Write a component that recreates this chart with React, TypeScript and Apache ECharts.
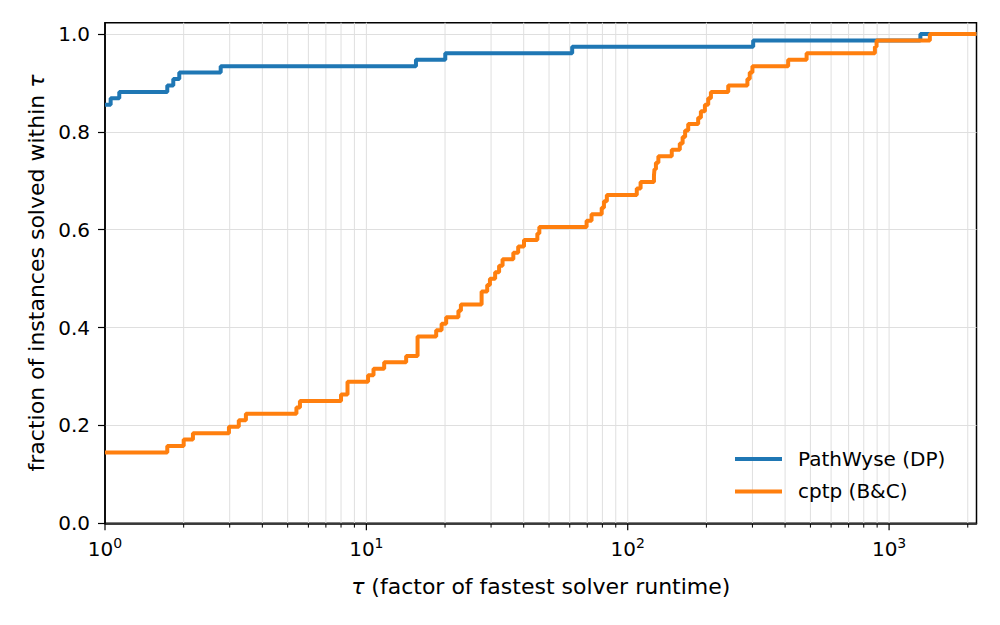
import React, { useEffect, useRef } from "react";
import * as echarts from "echarts";

// ---------------- data ----------------
const N_INSTANCES = 76;
const TAU_MIN = 1;
const TAU_MAX = 2160;
const Y_MAX = 1.023;

const seriesNames = ["PathWyse (DP)", "cptp (B&C)"];

// tau at which the number of solved instances changes, and the count from there on
const pathwyseTau = [1, 1.051, 1.134, 1.731, 1.825, 1.924, 2.771, 15.48, 20.04, 61.3, 302, 1317.5, TAU_MAX];
const pathwyseSolved = [65, 66, 67, 68, 69, 70, 71, 72, 73, 74, 75, 76, 76];

const cptpTau = [
  1, 1.731, 2.0, 2.17, 2.98, 3.25, 3.46, 5.4, 5.57, 8.0,
  8.47, 10.15, 10.65, 11.7, 14.2, 15.7, 18.5, 19.4, 20.2, 22.5,
  23.0, 27.6, 29.0, 29.7, 31.1, 32.2, 33.2, 36.5, 38.1, 40.1,
  45.1, 45.9, 69.6, 72.7, 79.5, 81.1, 83.2, 108.3, 112, 126,
  126.6, 128.2, 131, 147.4, 158.2, 162.2, 165.8, 170.4, 186, 190.5,
  197.4, 203.2, 208.1, 242.4, 287, 293, 300, 411, 483.5, 882.5,
  895.5, 1432, TAU_MAX,
];
const cptpSolved = [
  11, 12, 13, 14, 15, 16, 17, 18, 19, 20,
  22, 23, 24, 25, 26, 29, 30, 31, 32, 33,
  34, 36, 37, 38, 39, 40, 41, 42, 43, 44,
  45, 46, 47, 48, 49, 50, 51, 52, 53, 54,
  55, 56, 57, 58, 59, 60, 61, 62, 63, 64,
  65, 66, 67, 68, 69, 70, 71, 72, 73, 74,
  75, 76, 76,
];

const xMajorTicks = [1, 10, 100, 1000];
const xMinorTicks = [
  2, 3, 4, 5, 6, 7, 8, 9,
  20, 30, 40, 50, 60, 70, 80, 90,
  200, 300, 400, 500, 600, 700, 800, 900,
  2000,
];
const yTicks = [0, 0.2, 0.4, 0.6, 0.8, 1.0];

// ---------------- style ----------------
const FONT = "DejaVu Sans";
const BLUE = "#1f77b4";
const ORANGE = "#ff7f0e";
const GRID_COLOR = "#dfdfdf";
const NAME_SIZE = 22;

export default function App() {
  const ref = useRef<HTMLDivElement>(null);

  useEffect(() => {
    if (!ref.current) return;
    const chart = echarts.init(ref.current, undefined, { renderer: "svg" });

    const tickData = [
      ...xMajorTicks.map((v) => [v, 1]),
      ...xMinorTicks.map((v) => [v, 0]),
    ];

    const option: any = {
      animation: false,
      backgroundColor: "#ffffff",
      textStyle: { fontFamily: FONT, color: "#000" },
      grid: {
        left: 105,
        right: 23.5,
        top: 22.7,
        bottom: 101.7,
        show: true,
        borderColor: "#000",
        borderWidth: 1.5,
        backgroundColor: "transparent",
      },
      legend: {
        orient: "vertical",
        left: 730,
        top: 444,
        itemWidth: 47,
        itemHeight: 4,
        itemGap: 12.4,
        icon: "rect",
        selectedMode: false,
        data: seriesNames,
        textStyle: {
          fontFamily: FONT,
          fontSize: 20,
          color: "#000",
          padding: [0, 0, 0, 11],
        },
      },
      xAxis: {
        type: "log",
        logBase: 10,
        min: TAU_MIN,
        max: TAU_MAX,
        axisLine: { show: true, onZero: false, lineStyle: { color: "#000", width: 1.5 } },
        axisTick: { show: false },
        splitLine: { show: false },
        axisLabel: {
          margin: 13,
          color: "#000",
          formatter: (v: number) => {
            const e = Math.round(Math.log10(v));
            if (Math.abs(Math.pow(10, e) - v) > 1e-6 * v) return "";
            return `{b|10}{s|${e}}`;
          },
          rich: {
            b: { fontFamily: FONT, fontSize: 20, lineHeight: 26, color: "#000" },
            s: { fontFamily: FONT, fontSize: 14, lineHeight: 14, verticalAlign: "top", color: "#000" },
          },
        },
        name: "{i|τ} (factor of fastest solver runtime)",
        nameLocation: "middle",
        nameGap: 52,
        nameTextStyle: {
          fontFamily: FONT,
          fontSize: NAME_SIZE,
          color: "#000",
          rich: {
            i: { fontFamily: FONT, fontStyle: "italic", fontSize: NAME_SIZE, color: "#000" },
          },
        },
      },
      yAxis: {
        type: "value",
        min: 0,
        max: Y_MAX,
        interval: 0.2,
        axisLine: { show: true, lineStyle: { color: "#000", width: 1.5 } },
        axisTick: {
          show: true,
          length: 7,
          customValues: yTicks,
          lineStyle: { color: "#000", width: 1.2 },
        },
        axisLabel: {
          customValues: yTicks,
          margin: 15,
          fontFamily: FONT,
          fontSize: 20,
          color: "#000",
          formatter: (v: number) => v.toFixed(1),
        },
        splitLine: { show: true, lineStyle: { color: GRID_COLOR, width: 1 } },
        name: "fraction of instances solved within {i|τ}",
        nameLocation: "middle",
        nameGap: 57,
        nameTextStyle: {
          fontFamily: FONT,
          fontSize: NAME_SIZE,
          color: "#000",
          rich: {
            i: { fontFamily: FONT, fontStyle: "italic", fontSize: NAME_SIZE, color: "#000" },
          },
        },
      },
      series: [
        {
          type: "custom",
          name: "xticks",
          clip: false,
          silent: true,
          data: tickData,
          encode: { x: 0 },
          renderItem: (params: any, api: any) => {
            const v = api.value(0) as number;
            const major = api.value(1) === 1;
            const bottom = api.coord([v, 0]);
            const top = api.coord([v, Y_MAX]);
            const px = bottom[0];
            const children: any[] = [];
            if (v > TAU_MIN) {
              children.push({
                type: "line",
                shape: { x1: px, y1: top[1], x2: px, y2: bottom[1] },
                style: { stroke: GRID_COLOR, lineWidth: 1 },
              });
            }
            children.push({
              type: "line",
              shape: { x1: px, y1: bottom[1], x2: px, y2: bottom[1] + (major ? 7 : 4.3) },
              style: { stroke: "#000", lineWidth: major ? 1.2 : 1 },
            });
            return { type: "group", children };
          },
        },
        {
          type: "line",
          name: seriesNames[0],
          step: "end",
          showSymbol: false,
          symbol: "none",
          color: BLUE,
          lineStyle: { width: 4, color: BLUE },
          data: pathwyseTau.map((t, i) => [t, pathwyseSolved[i] / N_INSTANCES]),
        },
        {
          type: "line",
          name: seriesNames[1],
          step: "end",
          showSymbol: false,
          symbol: "none",
          color: ORANGE,
          lineStyle: { width: 4, color: ORANGE },
          data: cptpTau.map((t, i) => [t, cptpSolved[i] / N_INSTANCES]),
        },
      ],
    };

    chart.setOption(option);
    return () => {
      chart.dispose();
    };
  }, []);

  return (
    <div
      ref={ref}
      style={{ position: "fixed", left: 0, top: 0, width: 1000, height: 625, background: "#fff" }}
    />
  );
}
